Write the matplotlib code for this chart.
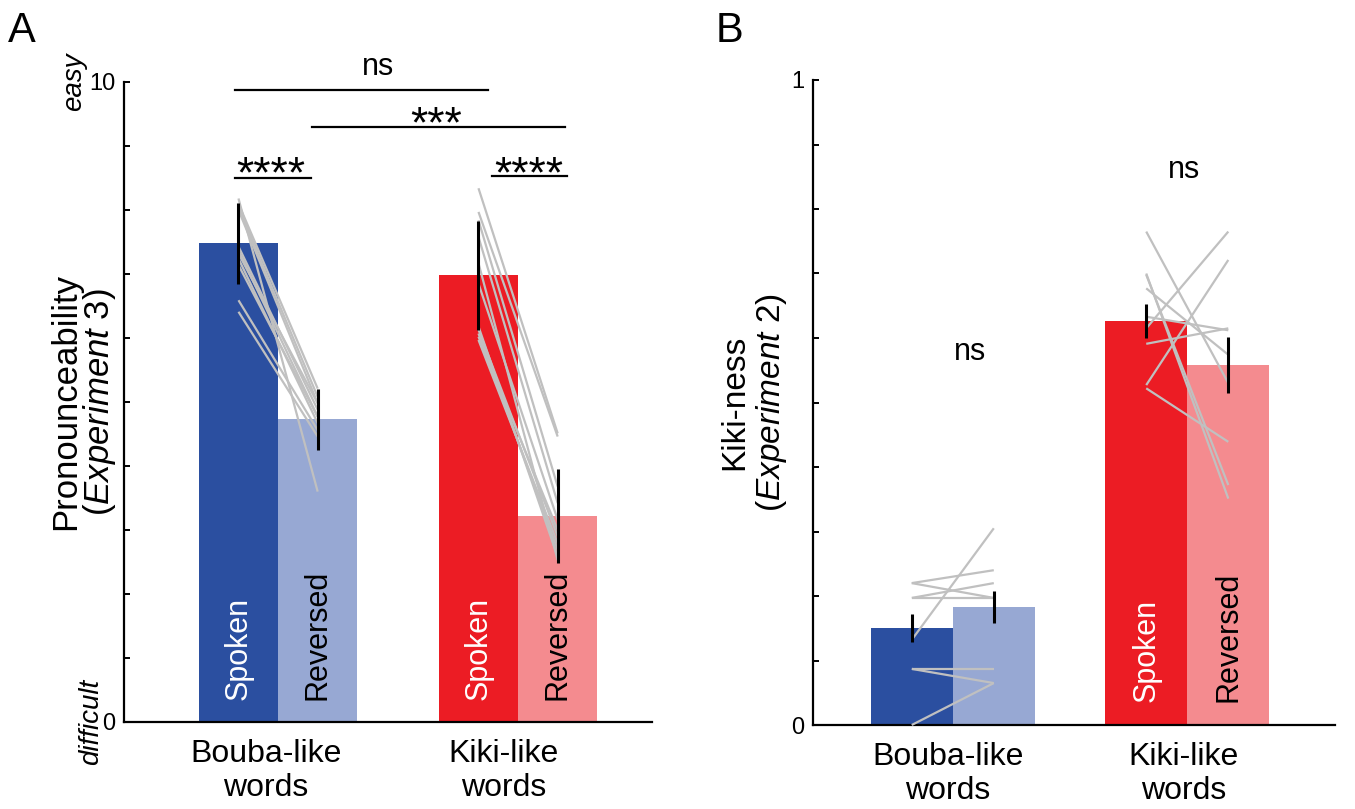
import numpy as np
import matplotlib
matplotlib.use("Agg")
import matplotlib.pyplot as plt
import matplotlib.transforms as mtransforms

plt.rcParams['font.family'] = ['Liberation Sans', 'DejaVu Sans']
plt.rcParams['mathtext.fontset'] = 'custom'
plt.rcParams['mathtext.rm'] = 'Liberation Sans'
plt.rcParams['mathtext.it'] = 'Liberation Sans:italic'

# ---- data ----
groups = ["Bouba-like\nwords", "Kiki-like\nwords"]

# panel A: pronounceability (experiment 3)
means_A = [7.48, 4.73, 6.98, 3.22]
err_A = [0.63, 0.48, 0.85, 0.73]
bouba_spk_A = [8.18, 8.10, 8.05, 8.00, 7.43, 7.37, 7.32, 7.24, 7.14, 6.59, 6.41]
bouba_rev_A = [3.60, 5.21, 5.08, 4.98, 4.88, 4.77, 4.98, 4.67, 4.77, 4.56, 4.46]
kiki_spk_A = [8.34, 7.97, 7.84, 7.58, 7.17, 6.85, 6.18, 6.13, 6.07, 6.02, 5.97]
kiki_rev_A = [4.51, 4.46, 3.68, 3.42, 2.53, 3.16, 2.58, 2.90, 2.69, 3.00, 2.79]

# panel B: kiki-ness (experiment 2)
means_B = [0.150, 0.183, 0.626, 0.558]
err_B = [0.022, 0.025, 0.026, 0.043]
bouba_spk_B = [0.132, 0.220, 0.220, 0.197, 0.197, 0.087, 0.087, 0.0]
bouba_rev_B = [0.305, 0.240, 0.197, 0.220, 0.197, 0.087, 0.065, 0.065]
kiki_spk_B = [0.765, 0.615, 0.527, 0.522, 0.700, 0.677, 0.633, 0.591, 0.698]
kiki_rev_B = [0.530, 0.765, 0.721, 0.439, 0.351, 0.574, 0.612, 0.615, 0.372]

colors = ["#2b4fa0", "#97a8d3", "#ec1c24", "#f48b8f"]
grey = "#c0c0c0"

fig = plt.figure(figsize=(13.55, 8.09), dpi=100)
axA = fig.add_axes([124/1355, 87/809, (652-124)/1355, 640/809])
axB = fig.add_axes([813/1355, 84/809, (1335-813)/1355, 645/809])


def draw_panel(ax, means, errs, pairs, width, ylim, xlim, label_x):
    xs = [1 - width/2, 1 + width/2, 2 - width/2, 2 + width/2]
    ax.bar(xs, means, width=width, color=colors, zorder=2)
    for (a, b), (x0, x1) in zip(pairs, [(xs[0], xs[1]), (xs[2], xs[3])]):
        for ya, yb in zip(a, b):
            ax.plot([x0, x1], [ya, yb], color=grey, lw=1.6, zorder=3,
                    solid_capstyle='butt', clip_on=False)
    ax.errorbar(xs, means, yerr=errs, fmt='none', ecolor='black',
                elinewidth=2.2, capsize=0, zorder=4)
    ax.set_xlim(*xlim)
    ax.set_ylim(*ylim)
    ax.spines['top'].set_visible(False)
    ax.spines['right'].set_visible(False)
    ax.spines['left'].set_linewidth(1.6)
    ax.spines['bottom'].set_linewidth(1.6)
    ax.set_xticks(label_x)
    ax.set_xticklabels(groups, fontsize=23, linespacing=1.2)
    ax.tick_params(axis='x', length=0, pad=12)
    ax.tick_params(axis='y', direction='in', length=4.5, width=1.4,
                   labelsize=17, pad=6)
    trans = mtransforms.blended_transform_factory(ax.transData, ax.transAxes)
    return xs, trans


xsA, transA = draw_panel(axA, means_A, err_A,
                         [(bouba_spk_A, bouba_rev_A), (kiki_spk_A, kiki_rev_A)],
                         0.33, (0, 10), (0.358, 2.558), [0.95, 1.94])
axA.set_yticks(np.arange(0, 11, 1))
axA.set_yticklabels(["0"] + [""] * 9 + ["10"])

xsB, transB = draw_panel(axB, means_B, err_B,
                         [(bouba_spk_B, bouba_rev_B), (kiki_spk_B, kiki_rev_B)],
                         0.35, (0, 1), (0.404, 2.63), [0.98, 1.985])
axB.set_yticks(np.arange(0, 1.01, 0.1))
axB.set_yticklabels(["0"] + [""] * 9 + ["1"])

# bar labels inside bars
for i in (0, 2):
    axA.text(xsA[i], 0.035, "Spoken", transform=transA, rotation=90,
             ha='center', va='bottom', color='white', fontsize=22)
    axA.text(xsA[i + 1], 0.035, "Reversed", transform=transA, rotation=90,
             ha='center', va='bottom', color='black', fontsize=22)
axB.text(xsB[2], 0.035, "Spoken", transform=transB, rotation=90,
         ha='center', va='bottom', color='white', fontsize=22)
axB.text(xsB[3], 0.035, "Reversed", transform=transB, rotation=90,
         ha='center', va='bottom', color='black', fontsize=22)

# significance annotations, panel A
sig_lines = [(0.821, 1.875, 9.87, "ns", 1.415, 10.11, 22),
             (1.140, 2.196, 9.29, "***", 1.660, 9.14, 32),
             (0.821, 1.136, 8.50, "****", 0.971, 8.36, 32),
             (1.891, 2.203, 8.53, "****", 2.046, 8.35, 32)]
for x0, x1, y, label, tx, ty, fs in sig_lines:
    axA.plot([x0, x1], [y, y], color='black', lw=1.6, clip_on=False)
    axA.text(tx, ty, label, ha='center', va='baseline', fontsize=fs)

axB.text(1.072, 0.566, "ns", ha='center', va='baseline', fontsize=22)
axB.text(1.987, 0.848, "ns", ha='center', va='baseline', fontsize=22)

# y labels
axA.text(-0.076, 0.5, "Pronounceability\n($\\it{Experiment\\ 3}$)",
         transform=axA.transAxes, rotation=90, ha='center', va='center',
         fontsize=25, linespacing=0.95, multialignment='center')
axA.text(-0.094, 1.0, "easy", transform=axA.transAxes, rotation=90,
         ha='center', va='center', fontsize=20, style='italic')
axA.text(-0.062, 0.0, "difficult", transform=axA.transAxes, rotation=90,
         ha='center', va='center', fontsize=20, style='italic')

axB.text(-0.113, 0.5, "Kiki-ness\n($\\it{Experiment\\ 2}$)",
         transform=axB.transAxes, rotation=90, ha='center', va='center',
         fontsize=24, linespacing=1.15, multialignment='center')

# panel letters
fig.text(8/1355, 1 - 42/809, "A", fontsize=30)
fig.text(716/1355, 1 - 42/809, "B", fontsize=30)

fig.savefig("out.png", dpi=100)
